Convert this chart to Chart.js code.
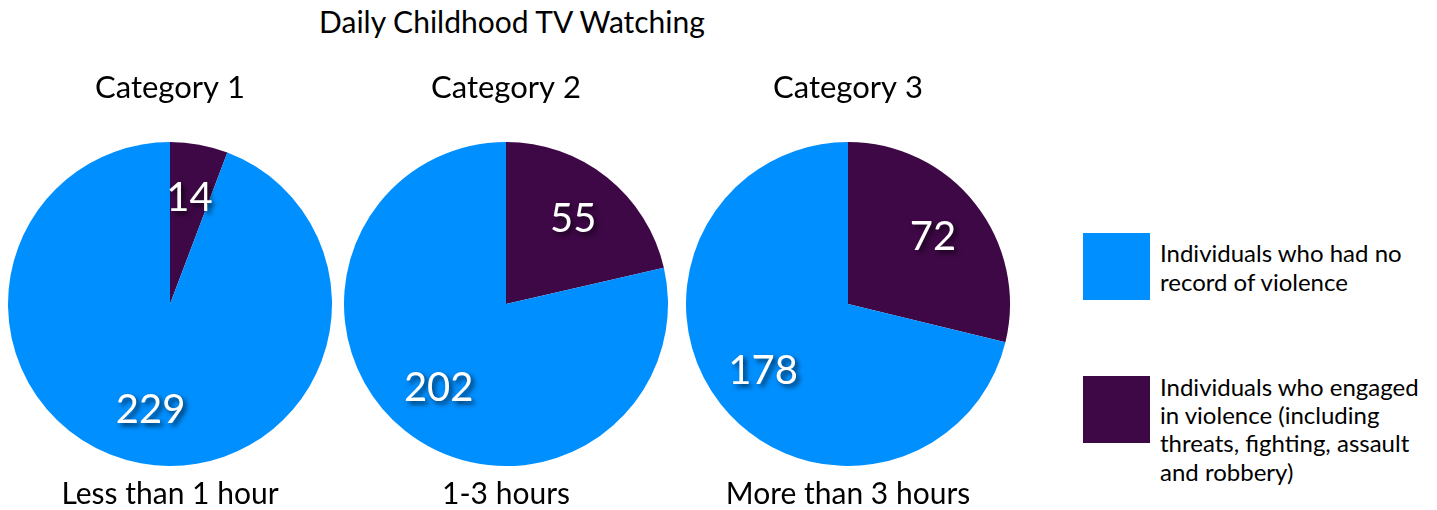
<!DOCTYPE html>
<html>
<head>
<meta charset="utf-8">
<script src="https://cdn.jsdelivr.net/npm/chart.js@4"></script>
<style>
  body { margin: 0; background: #fff; font-family: Lato, sans-serif; }
  #wrap { position: relative; width: 1437px; height: 510px; overflow: hidden; }
  .pie { position: absolute; top: 60px; width: 340px; height: 452px; }
  #title { position: absolute; left: 262px; width: 500px; top: 3px; text-align: center; font-size: 30px; color: #000; }
  .legend-item { position: absolute; left: 1083px; }
  .swatch { position: absolute; left: 0; top: 0; width: 67px; height: 67px; }
  .legend-text { position: absolute; left: 77px; white-space: nowrap; font-size: 24px; color: #000; }
</style>
</head>
<body>
<div id="wrap">
  <div id="title">Daily Childhood TV Watching</div>
  <div class="pie" style="left:0px"><canvas id="pie0"></canvas></div>
  <div class="pie" style="left:336px"><canvas id="pie1"></canvas></div>
  <div class="pie" style="left:678px"><canvas id="pie2"></canvas></div>
  <div id="legend"></div>
</div>
<script>
const categories = ['Category 1', 'Category 2', 'Category 3'];
const durations = ['Less than 1 hour', '1-3 hours', 'More than 3 hours'];
const noViolence = [229, 202, 178];
const violence = [14, 55, 72];
const seriesNames = [
    'Individuals who had no<br>record of violence',
    'Individuals who engaged<br>in violence (including<br>threats, fighting, assault<br>and robbery)'
];

const BLUE = '#008FFF';
const PURPLE = '#3E0846';

const valueLabels = {
    id: 'valueLabels',
    afterDatasetsDraw(chart) {
        const ctx = chart.ctx;
        const ds = chart.data.datasets[0];
        ctx.save();
        ctx.font = '40px Lato';
        ctx.fillStyle = '#fff';
        ctx.textAlign = 'center';
        ctx.textBaseline = 'middle';
        ctx.shadowColor = 'rgba(0,0,0,0.65)';
        ctx.shadowOffsetX = 3;
        ctx.shadowOffsetY = 3;
        ctx.shadowBlur = 5;
        chart.getDatasetMeta(0).data.forEach((arc, i) => {
            const p = arc.getProps(['x', 'y', 'startAngle', 'endAngle', 'outerRadius'], true);
            const a = (p.startAngle + p.endAngle) / 2;
            const r = p.outerRadius * 0.667;
            ctx.fillText(ds.data[i], p.x + Math.cos(a) * r, p.y + Math.sin(a) * r);
        });
        ctx.restore();
    }
};

function drawPie(i) {
    new Chart(document.getElementById('pie' + i), {
        type: 'pie',
        data: {
            labels: ['violence', 'no violence'],
            datasets: [{
                data: [violence[i], noViolence[i]],
                backgroundColor: [PURPLE, BLUE],
                borderWidth: 0
            }]
        },
        options: {
            responsive: true,
            maintainAspectRatio: false,
            animation: false,
            plugins: {
                legend: { display: false },
                tooltip: { enabled: false },
                title: {
                    display: true,
                    text: categories[i],
                    color: '#000',
                    font: { family: 'Lato', size: 31, weight: 'normal' },
                    padding: { top: 9.4, bottom: 35.4 }
                },
                subtitle: {
                    display: true,
                    position: 'bottom',
                    text: durations[i],
                    color: '#000',
                    font: { family: 'Lato', size: 30, weight: 'normal' },
                    padding: { top: 10, bottom: 0 }
                }
            }
        },
        plugins: [valueLabels]
    });
}

categories.forEach((c, i) => drawPie(i));

// legend
const legendColors = [BLUE, PURPLE];
const legendTops = [233, 376];
const textOffsets = [4.5, -3.5];
const lineHeights = [29, 28.4];
document.getElementById('legend').innerHTML = seriesNames.map((name, i) =>
    `<div class="legend-item" style="top:${legendTops[i]}px">
       <div class="swatch" style="background:${legendColors[i]}"></div>
       <div class="legend-text" style="top:${textOffsets[i]}px;line-height:${lineHeights[i]}px">${name}</div>
     </div>`).join('');
</script>
</body>
</html>
